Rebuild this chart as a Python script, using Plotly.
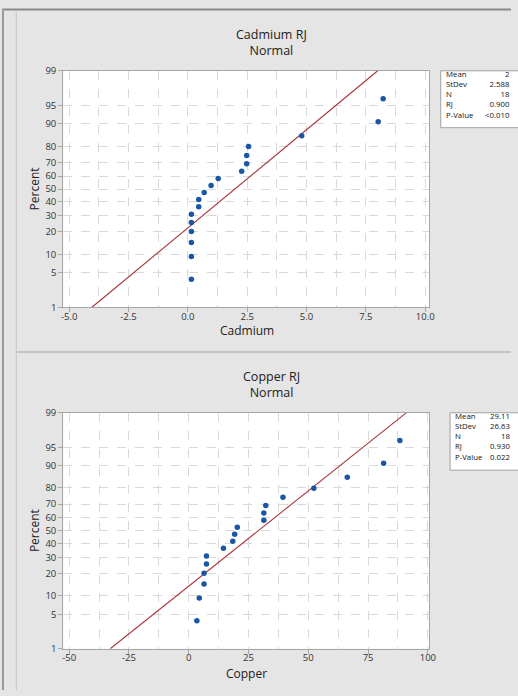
import plotly.graph_objects as go
from statistics import NormalDist

# ---------------- data ----------------
percent_ticks = [1, 5, 10, 20, 30, 40, 50, 60, 70, 80, 90, 95, 99]
plot_percent = [3.80, 9.24, 14.67, 20.11, 25.54, 30.98, 36.41, 41.85, 47.28,
                52.72, 58.15, 63.59, 69.02, 74.46, 79.89, 85.33, 90.76, 96.20]

cadmium = [0.15, 0.15, 0.15, 0.15, 0.15, 0.15, 0.46, 0.46, 0.69,
           0.98, 1.28, 2.27, 2.48, 2.48, 2.56, 4.8, 8.02, 8.23]
copper = [3.4, 4.4, 6.4, 6.4, 7.4, 7.4, 14.5, 18.4, 19.2,
          20.3, 31.4, 31.4, 32.2, 39.4, 52.3, 66.3, 81.5, 88.3]

cad_fit = (1.98, 2.588)     # mean, stdev used for fitted line
cop_fit = (29.11, 26.63)

cad_xticks = [-5.0, -2.5, 0.0, 2.5, 5.0, 7.5, 10.0]
cad_xtext = ["-5.0", "-2.5", "0.0", "2.5", "5.0", "7.5", "10.0"]
cop_xticks = [-50, -25, 0, 25, 50, 75, 100]
cop_xtext = ["-50", "-25", "0", "25", "50", "75", "100"]

stat_labels = ["Mean", "StDev", "N", "RJ", "P-Value"]
cad_stats = ["2", "2.588", "18", "0.900", "<0.010"]
cop_stats = ["29.11", "26.63", "18", "0.930", "0.022"]

# ---------------- helpers ----------------
W, H = 518, 696
nd = NormalDist()
zlo, zhi = nd.inv_cdf(0.01), nd.inv_cdf(0.99)


def px(x):
    return x / W


def py(y):
    return 1 - y / H


FONT = "Open Sans"
TXT = "#222222"
GRID = "#d9d9d9"
BORDER = "#a6a6a6"
BLUE = "#1a56a8"
RED = "#a8353b"

fig = go.Figure()

panels = [
    dict(name="Cadmium", data=cadmium, fit=cad_fit, xt=cad_xticks, xtx=cad_xtext,
         rng=[-5.25, 10.18], minor=1.25, ytop=65, ybot=306, stats=cad_stats,
         title_y=36, xlab_y=330, box=(446.5, 65, 123), block_y=89,
         lab_x=451, ax="", title="Cadmium RJ"),
    dict(name="Copper", data=copper, fit=cop_fit, xt=cop_xticks, xtx=cop_xtext,
         rng=[-52.5, 100.66], minor=12.5, ytop=413.3, ybot=654, stats=cop_stats,
         title_y=384.5, xlab_y=679, box=(456, 413.5, 472), block_y=438,
         lab_x=459.5, ax="2", title="Copper RJ"),
]

annotations = []
shapes = []

for p in panels:
    ax = p["ax"]
    xa = "x" + ax
    ya = "y" + ax
    z = [nd.inv_cdf(v / 100) for v in plot_percent]
    m, s = p["fit"]
    fig.add_trace(go.Scatter(x=[m + zlo * s, m + zhi * s], y=[zlo, zhi], mode="lines",
                             line=dict(color=RED, width=1.1), xaxis=xa, yaxis=ya,
                             showlegend=False, hoverinfo="skip"))
    fig.add_trace(go.Scatter(x=p["data"], y=z, mode="markers",
                             marker=dict(color=BLUE, size=5.5, line=dict(width=0)),
                             xaxis=xa, yaxis=ya, showlegend=False))

    dom_x = [px(62.3), px(435)]
    dom_y = [py(p["ybot"]), py(p["ytop"])]
    xkey = "xaxis" + ax
    ykey = "yaxis" + ax
    fig.update_layout(**{
        xkey: dict(domain=dom_x, range=p["rng"], anchor=ya, tickvals=p["xt"], ticktext=p["xtx"],
                   showline=True, mirror=True, linecolor=BORDER, linewidth=1,
                   ticks="outside", ticklen=4, tickcolor=BORDER, ticklabelstandoff=-4,
                   showgrid=True, gridcolor=GRID, griddash="dash", gridwidth=1,
                   minor=dict(dtick=p["minor"], tick0=0, showgrid=True, gridcolor=GRID,
                              griddash="dash", ticks=""),
                   zeroline=False, fixedrange=True,
                   tickfont=dict(family=FONT, size=9.5, color="#333333")),
        ykey: dict(domain=dom_y, range=[zlo, zhi], anchor=xa,
                   tickvals=[nd.inv_cdf(t / 100) for t in percent_ticks],
                   ticktext=[str(t) for t in percent_ticks],
                   showline=True, mirror=True, linecolor=BORDER, linewidth=1,
                   ticks="outside", ticklen=4, tickcolor=BORDER,
                   showgrid=True, gridcolor=GRID, griddash="dash", gridwidth=1,
                   zeroline=False, fixedrange=True,
                   tickfont=dict(family=FONT, size=9.5, color="#333333")),
    })

    # title (two lines)
    annotations.append(dict(x=px(274), y=py(p["title_y"]), xref="paper", yref="paper",
                            text=p["title"] + "<br>Normal", showarrow=False,
                            xanchor="center", yanchor="middle", align="center",
                            font=dict(family=FONT, size=12.5, color=TXT)))
    # axis titles
    annotations.append(dict(x=px(249), y=py(p["xlab_y"]), xref="paper", yref="paper",
                            text=p["name"], showarrow=False, xanchor="center", yanchor="middle",
                            font=dict(family=FONT, size=12, color=TXT)))
    annotations.append(dict(x=px(33), y=py((p["ytop"] + p["ybot"]) / 2), xref="paper", yref="paper",
                            text="Percent", showarrow=False, xanchor="center", yanchor="middle",
                            textangle=-90, font=dict(family=FONT, size=12, color=TXT)))
    # stats box
    bx, by0, by1 = p["box"]
    shapes.append(dict(type="rect", xref="paper", yref="paper", x0=px(bx), x1=px(540),
                       y0=py(by1), y1=py(by0), fillcolor="white",
                       line=dict(color="#a0a0a0", width=1), layer="below"))
    annotations.append(dict(x=px(p["lab_x"]), y=py(p["block_y"]), xref="paper", yref="paper",
                            text="<br>".join(stat_labels), showarrow=False,
                            xanchor="left", yanchor="middle", align="left", borderpad=0,
                            font=dict(family=FONT, size=7.8, color="#111111")))
    annotations.append(dict(x=px(517.5), y=py(p["block_y"]), xref="paper", yref="paper",
                            text="<br>".join(p["stats"]), showarrow=False,
                            xanchor="right", yanchor="middle", align="right", borderpad=0,
                            font=dict(family=FONT, size=7.8, color="#111111")))

# frame lines
shapes += [
    dict(type="line", xref="paper", yref="paper", x0=0, x1=1, y0=py(2.5), y1=py(2.5),
         line=dict(color="#8a8a8a", width=2)),
    dict(type="line", xref="paper", yref="paper", x0=px(1), x1=px(1), y0=0, y1=py(2),
         line=dict(color="#9a9a9a", width=2)),
    dict(type="line", xref="paper", yref="paper", x0=px(14.5), x1=px(14.5), y0=0, y1=py(3),
         line=dict(color="#c4c4c4", width=1)),
    dict(type="line", xref="paper", yref="paper", x0=px(14.5), x1=1, y0=py(351.5), y1=py(351.5),
         line=dict(color="#c4c4c4", width=2)),
]

fig.update_layout(
    width=W, height=H,
    margin=dict(l=0, r=0, t=0, b=0),
    paper_bgcolor="#e5e5e5",
    plot_bgcolor="white",
    annotations=annotations,
    shapes=shapes,
    font=dict(family=FONT, color=TXT),
    showlegend=False,
)

fig.write_html("out.html", config=dict(displayModeBar=False))
